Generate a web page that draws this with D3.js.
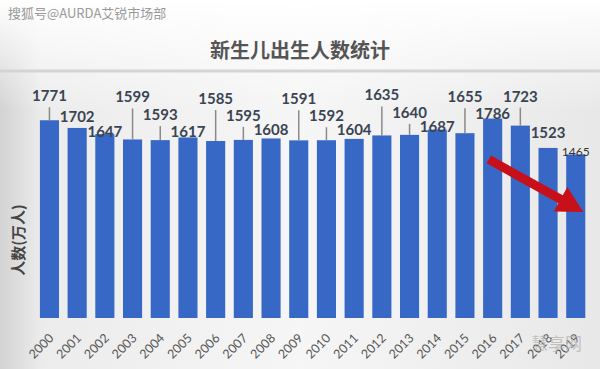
<!DOCTYPE html>
<html>
<head>
<meta charset="utf-8">
<script src="https://cdn.jsdelivr.net/npm/d3@7"></script>
<style>
  html, body { margin: 0; padding: 0; background: #f2f2f2; }
  svg { display: block; }
</style>
</head>
<body>
<svg id="chart"></svg>
<script>
const years = ['2000','2001','2002','2003','2004','2005','2006','2007','2008','2009',
               '2010','2011','2012','2013','2014','2015','2016','2017','2018','2019'];
const births = [1771, 1702, 1647, 1599, 1593, 1617, 1585, 1595, 1608, 1591,
                1592, 1604, 1635, 1640, 1687, 1655, 1786, 1723, 1523, 1465];

const title = '新生儿出生人数统计';
const yTitle = '人数(万人)';
const source = '搜狐号@AURDA艾锐市场部';

const width = 600;
const height = 369;

// how far each value label sits above its bar (callouts get a leader line)
const labelLift = [19, 6, -3, 37, 20, 0, 37, 19, 3, 36,
                   19, 4, 35, 17, -2, 31, 0, 24, 10, -2];

const svg = d3.select('#chart')
    .attr('width', width)
    .attr('height', height)
    .style('font-family', 'Lato, "Noto Sans CJK SC", sans-serif');

const defs = svg.append('defs');
const bg = defs.append('linearGradient').attr('id', 'bg');
bg.append('stop').attr('offset', '0%').attr('stop-color', '#d3d3d3');
bg.append('stop').attr('offset', '7%').attr('stop-color', '#ececec');
bg.append('stop').attr('offset', '50%').attr('stop-color', '#f6f6f6');
bg.append('stop').attr('offset', '100%').attr('stop-color', '#e8e8e8');

const topFade = defs.append('linearGradient').attr('id', 'topfade')
    .attr('x1', 0).attr('x2', 0).attr('y1', 0).attr('y2', 1);
topFade.append('stop').attr('offset', '0%').attr('stop-color', '#ffffff').attr('stop-opacity', 1);
topFade.append('stop').attr('offset', '100%').attr('stop-color', '#ffffff').attr('stop-opacity', 0);

svg.append('rect').attr('width', width).attr('height', height).attr('fill', 'url(#bg)');
svg.append('rect').attr('width', width).attr('height', 110).attr('fill', 'url(#topfade)');

// header
svg.append('text')
    .attr('x', 8).attr('y', 18)
    .attr('fill', '#9a9a9a')
    .style('font-size', '13px')
    .style('font-family', '"Noto Sans CJK SC", sans-serif')
    .text(source);

svg.append('text')
    .attr('x', 300).attr('y', 58)
    .attr('text-anchor', 'middle')
    .attr('fill', '#555')
    .style('font-size', '20px')
    .style('font-weight', 'bold')
    .style('font-family', '"Noto Sans CJK SC", sans-serif')
    .text(title);

svg.append('line')
    .attr('x1', 0).attr('x2', width)
    .attr('y1', 71).attr('y2', 71)
    .attr('stroke', '#d4d4d4')
    .attr('stroke-width', 3);

// scales
const x = d3.scaleBand()
    .domain(years)
    .range([35.6, 589.6])
    .paddingInner(0.31)
    .paddingOuter(0.155);

const y = d3.scaleLinear()
    .domain([0, 1800])
    .range([318, 117]);

const data = years.map((yr, i) => ({ year: yr, value: births[i], lift: labelLift[i], i }));

// bars
svg.append('g').selectAll('rect')
    .data(data)
    .join('rect')
    .attr('x', d => x(d.year))
    .attr('y', d => y(d.value))
    .attr('width', x.bandwidth())
    .attr('height', d => y(0) - y(d.value))
    .attr('fill', '#3868c6');

// leader lines
svg.append('g').selectAll('line')
    .data(data.filter(d => d.lift > 12))
    .join('line')
    .attr('x1', d => x(d.year) + x.bandwidth() / 2)
    .attr('x2', d => x(d.year) + x.bandwidth() / 2)
    .attr('y1', d => y(d.value) - d.lift + 6)
    .attr('y2', d => y(d.value))
    .attr('stroke', '#8a8a8a')
    .attr('stroke-width', 1.5);

// value labels
svg.append('g').selectAll('text')
    .data(data)
    .join('text')
    .attr('x', d => x(d.year) + x.bandwidth() / 2)
    .attr('y', d => y(d.value) - d.lift)
    .attr('text-anchor', 'middle')
    .attr('fill', d => d.i === 19 ? '#333' : '#3a4452')
    .style('font-size', d => d.i === 19 ? '12px' : '15px')
    .style('font-weight', d => d.i === 19 ? 'normal' : 'bold')
    .text(d => d.value);

// x axis labels
const xAxis = svg.append('g')
    .attr('transform', 'translate(0,322)')
    .call(d3.axisBottom(x).tickSize(0).tickPadding(0));
xAxis.select('.domain').remove();
xAxis.selectAll('text')
    .attr('fill', '#555')
    .style('font-size', '12.5px')
    .style('font-family', 'Lato, sans-serif')
    .attr('text-anchor', 'end')
    .attr('dy', '0.9em')
    .attr('transform', 'translate(-3,9) rotate(-45)');

// y title
svg.append('text')
    .attr('transform', 'translate(24,240) rotate(-90)')
    .attr('text-anchor', 'middle')
    .attr('fill', '#444')
    .style('font-size', '15px')
    .style('font-weight', 'bold')
    .style('font-family', '"Noto Sans CJK SC", sans-serif')
    .text(yTitle);

// red trend arrow
const a0 = [x('2017') - 22, y(1420)];
const a1 = [x('2019') + x.bandwidth() - 2, y(950)];
const ang = Math.atan2(a1[1] - a0[1], a1[0] - a0[0]);
const len = Math.hypot(a1[0] - a0[0], a1[1] - a0[1]);
const arrow = svg.append('g')
    .attr('transform', `translate(${a0[0]},${a0[1]}) rotate(${ang * 180 / Math.PI})`);
arrow.append('path')
    .attr('d', `M0,-4.5 L${len - 26},-4.5 L${len - 26},-14 L${len},0 L${len - 26},14 L${len - 26},4.5 L0,4.5 Z`)
    .attr('fill', '#c8101a');

// corner watermark
svg.append('text')
    .attr('x', 582).attr('y', 350)
    .attr('text-anchor', 'end')
    .attr('fill', '#b8b8b8')
    .attr('opacity', 0.8)
    .style('font-size', '17px')
    .style('font-family', '"Noto Sans CJK SC", sans-serif')
    .text('慧享网');
</script>
</body>
</html>
